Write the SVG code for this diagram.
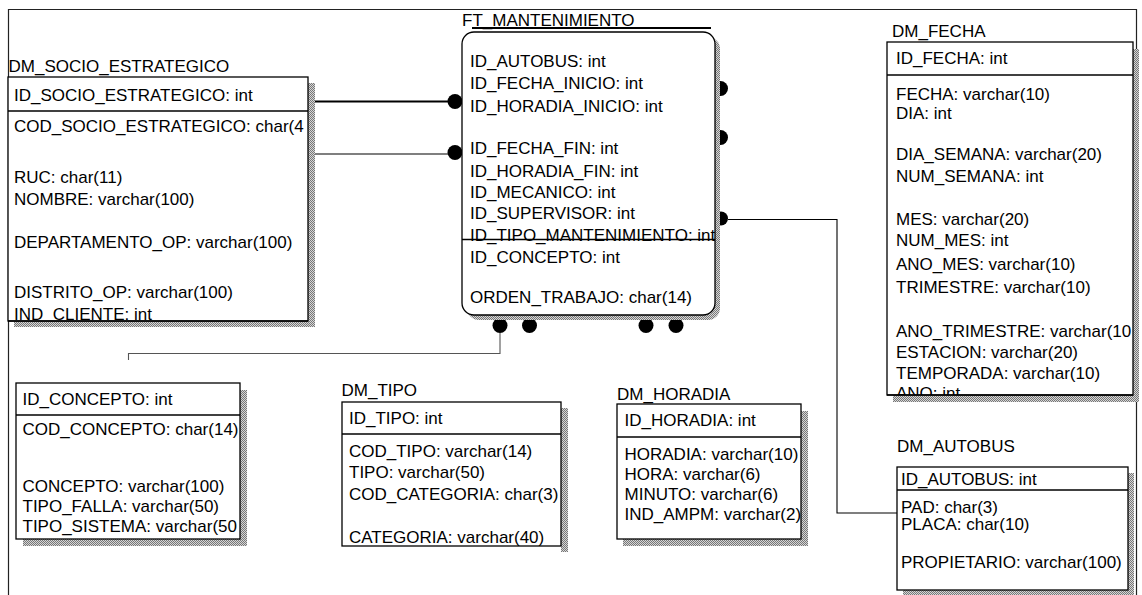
<svg xmlns="http://www.w3.org/2000/svg" width="1142" height="595" viewBox="0 0 1142 595">
<style>
.t{font-family:"Liberation Sans",Arial,sans-serif;font-size:17px;fill:#000}
.box{fill:#fff;stroke:#000;stroke-width:1.3}
.sh{fill:url(#shade);stroke:none}
.sep{stroke:#000;stroke-width:1.3}
.frame{fill:none;stroke:#222;stroke-width:1.2}
.c{fill:none;stroke:#000;stroke-width:1.1}
.cg{fill:none;stroke:#555;stroke-width:1.1}
.dot{fill:#000}
</style>
<defs>
<pattern id="shade" width="2" height="2" patternUnits="userSpaceOnUse">
<rect width="2" height="2" fill="#d6d6d6"/>
<rect width="1" height="1" fill="#777"/>
<rect x="1" y="1" width="1" height="1" fill="#777"/>
</pattern>
<clipPath id="cSocio"><rect x="8" y="77" width="300" height="244"/></clipPath>
<clipPath id="cFT"><rect x="462" y="32" width="253" height="283" rx="12"/></clipPath>
<clipPath id="cFecha"><rect x="887" y="42" width="246" height="353"/></clipPath>
<clipPath id="cAuto"><rect x="897" y="467" width="231" height="123"/></clipPath>
<clipPath id="cConc"><rect x="16" y="383" width="224" height="156"/></clipPath>
<clipPath id="cTipo"><rect x="342" y="402" width="219" height="144"/></clipPath>
<clipPath id="cHora"><rect x="617" y="404" width="184" height="135"/></clipPath>
</defs>
<rect width="1142" height="595" fill="#fff"/>
<path class="frame" d="M8.5 595V9.5H1136.5V595"/>

<g id="connectors">
<line x1="309" y1="101.5" x2="454" y2="101.5" stroke="#000" stroke-width="2"/>
<line class="c" x1="313" y1="154" x2="454" y2="154" stroke="#333"/>
<circle class="dot" cx="455" cy="101.5" r="7.5"/>
<circle class="dot" cx="455" cy="152.5" r="7.5"/>
<circle class="dot" cx="720.5" cy="88.5" r="7.5"/>
<circle class="dot" cx="720.5" cy="137.5" r="7.5"/>
<circle class="dot" cx="721" cy="218.5" r="7"/>
<polyline class="c" points="728,219.5 837,219.5 837,513 897,513"/>
<circle class="dot" cx="500" cy="325.5" r="7.5"/>
<circle class="dot" cx="529.5" cy="325.5" r="7.5"/>
<circle class="dot" cx="646" cy="325.5" r="7.5"/>
<circle class="dot" cx="676" cy="325.5" r="7.5"/>
<polyline class="cg" points="500,333 500,353.5 128.5,353.5 128.5,360"/>
</g>

<g id="DM_SOCIO_ESTRATEGICO">
<text class="t" x="8.5" y="71.5">DM_SOCIO_ESTRATEGICO</text>
<rect class="sh" x="14" y="83" width="301" height="244"/>
<rect class="box" x="8" y="77" width="300" height="244"/>
<line class="sep" x1="8" y1="111" x2="308" y2="111"/>
<g clip-path="url(#cSocio)">
<text class="t" x="14" y="101">ID_SOCIO_ESTRATEGICO: int</text>
<text class="t" x="14" y="132">COD_SOCIO_ESTRATEGICO: char(4</text>
<text class="t" x="14" y="183">RUC: char(11)</text>
<text class="t" x="14" y="205">NOMBRE: varchar(100)</text>
<text class="t" x="14" y="248">DEPARTAMENTO_OP: varchar(100)</text>
<text class="t" x="14" y="298">DISTRITO_OP: varchar(100)</text>
<text class="t" x="14" y="320">IND_CLIENTE: int</text>
</g>
<line class="sep" x1="8" y1="321" x2="308" y2="321"/>
</g>

<g id="FT_MANTENIMIENTO">
<text class="t" x="462" y="26">FT_MANTENIMIENTO</text>
<line x1="472" y1="28" x2="711" y2="28" stroke="#000" stroke-width="2"/>
<rect class="sh" x="467" y="37" width="253" height="283" rx="12"/>
<rect class="box" x="462" y="32" width="253" height="283" rx="12"/>
<g clip-path="url(#cFT)">
<text class="t" x="470" y="67">ID_AUTOBUS: int</text>
<text class="t" x="470" y="89">ID_FECHA_INICIO: int</text>
<text class="t" x="470" y="111.5">ID_HORADIA_INICIO: int</text>
<text class="t" x="470" y="154">ID_FECHA_FIN: int</text>
<text class="t" x="470" y="176.5">ID_HORADIA_FIN: int</text>
<text class="t" x="470" y="197.5">ID_MECANICO: int</text>
<text class="t" x="470" y="218.5">ID_SUPERVISOR: int</text>
<text class="t" x="470" y="240.5">ID_TIPO_MANTENIMIENTO: int</text>
<text class="t" x="470" y="263">ID_CONCEPTO: int</text>
<text class="t" x="470" y="302.5">ORDEN_TRABAJO: char(14)</text>
</g>
<line class="sep" x1="462" y1="239.5" x2="715" y2="239.5"/>
</g>

<g id="DM_FECHA">
<text class="t" x="892" y="36.5">DM_FECHA</text>
<rect class="sh" x="893" y="49" width="246" height="353"/>
<rect class="box" x="887" y="42" width="246" height="353"/>
<line class="sep" x1="887" y1="75" x2="1133" y2="75"/>
<g clip-path="url(#cFecha)">
<text class="t" x="896" y="64">ID_FECHA: int</text>
<text class="t" x="896" y="99.5">FECHA: varchar(10)</text>
<text class="t" x="896" y="118.5">DIA: int</text>
<text class="t" x="896" y="160">DIA_SEMANA: varchar(20)</text>
<text class="t" x="896" y="181.5">NUM_SEMANA: int</text>
<text class="t" x="896" y="225">MES: varchar(20)</text>
<text class="t" x="896" y="246">NUM_MES: int</text>
<text class="t" x="896" y="269.5">ANO_MES: varchar(10)</text>
<text class="t" x="896" y="293">TRIMESTRE: varchar(10)</text>
<text class="t" x="896" y="336.5">ANO_TRIMESTRE: varchar(10</text>
<text class="t" x="896" y="357.5">ESTACION: varchar(20)</text>
<text class="t" x="896" y="378.5">TEMPORADA: varchar(10)</text>
<text class="t" x="896" y="399">ANO: int</text>
</g>
<line class="sep" x1="887" y1="395" x2="1133" y2="395"/>
</g>

<g id="DM_AUTOBUS">
<text class="t" x="897" y="451.5">DM_AUTOBUS</text>
<rect class="sh" x="903" y="473" width="231" height="123"/>
<rect class="box" x="897" y="467" width="231" height="123"/>
<line class="sep" x1="897" y1="490" x2="1128" y2="490"/>
<g clip-path="url(#cAuto)">
<text class="t" x="901" y="485">ID_AUTOBUS: int</text>
<text class="t" x="901" y="513">PAD: char(3)</text>
<text class="t" x="901" y="530">PLACA: char(10)</text>
<text class="t" x="901" y="568">PROPIETARIO: varchar(100)</text>
</g>
</g>

<g id="DM_CONCEPTO">
<rect class="sh" x="23" y="390" width="224" height="156"/>
<rect class="box" x="16" y="383" width="224" height="156"/>
<line class="sep" x1="16" y1="415" x2="240" y2="415"/>
<g clip-path="url(#cConc)">
<text class="t" x="22.5" y="405">ID_CONCEPTO: int</text>
<text class="t" x="22.5" y="435">COD_CONCEPTO: char(14)</text>
<text class="t" x="22.5" y="491.5">CONCEPTO: varchar(100)</text>
<text class="t" x="22.5" y="511.5">TIPO_FALLA: varchar(50)</text>
<text class="t" x="22.5" y="531.5">TIPO_SISTEMA: varchar(50</text>
</g>
</g>

<g id="DM_TIPO">
<text class="t" x="341.5" y="396">DM_TIPO</text>
<rect class="sh" x="561" y="408" width="7" height="144"/>
<rect class="box" x="342" y="402" width="219" height="144"/>
<line class="sep" x1="342" y1="434" x2="561" y2="434"/>
<g clip-path="url(#cTipo)">
<text class="t" x="349" y="423.5">ID_TIPO: int</text>
<text class="t" x="349" y="456.5">COD_TIPO: varchar(14)</text>
<text class="t" x="349" y="478">TIPO: varchar(50)</text>
<text class="t" x="349" y="500">COD_CATEGORIA: char(3)</text>
<text class="t" x="349" y="542.5">CATEGORIA: varchar(40)</text>
</g>
</g>

<g id="DM_HORADIA">
<text class="t" x="617" y="399.5">DM_HORADIA</text>
<rect class="sh" x="623" y="411" width="185" height="135"/>
<rect class="box" x="617" y="404" width="184" height="135"/>
<line class="sep" x1="617" y1="437" x2="801" y2="437"/>
<g clip-path="url(#cHora)">
<text class="t" x="624.5" y="426">ID_HORADIA: int</text>
<text class="t" x="624.5" y="460">HORADIA: varchar(10)</text>
<text class="t" x="624.5" y="480">HORA: varchar(6)</text>
<text class="t" x="624.5" y="499.5">MINUTO: varchar(6)</text>
<text class="t" x="624.5" y="520">IND_AMPM: varchar(2)</text>
</g>
</g>
</svg>
